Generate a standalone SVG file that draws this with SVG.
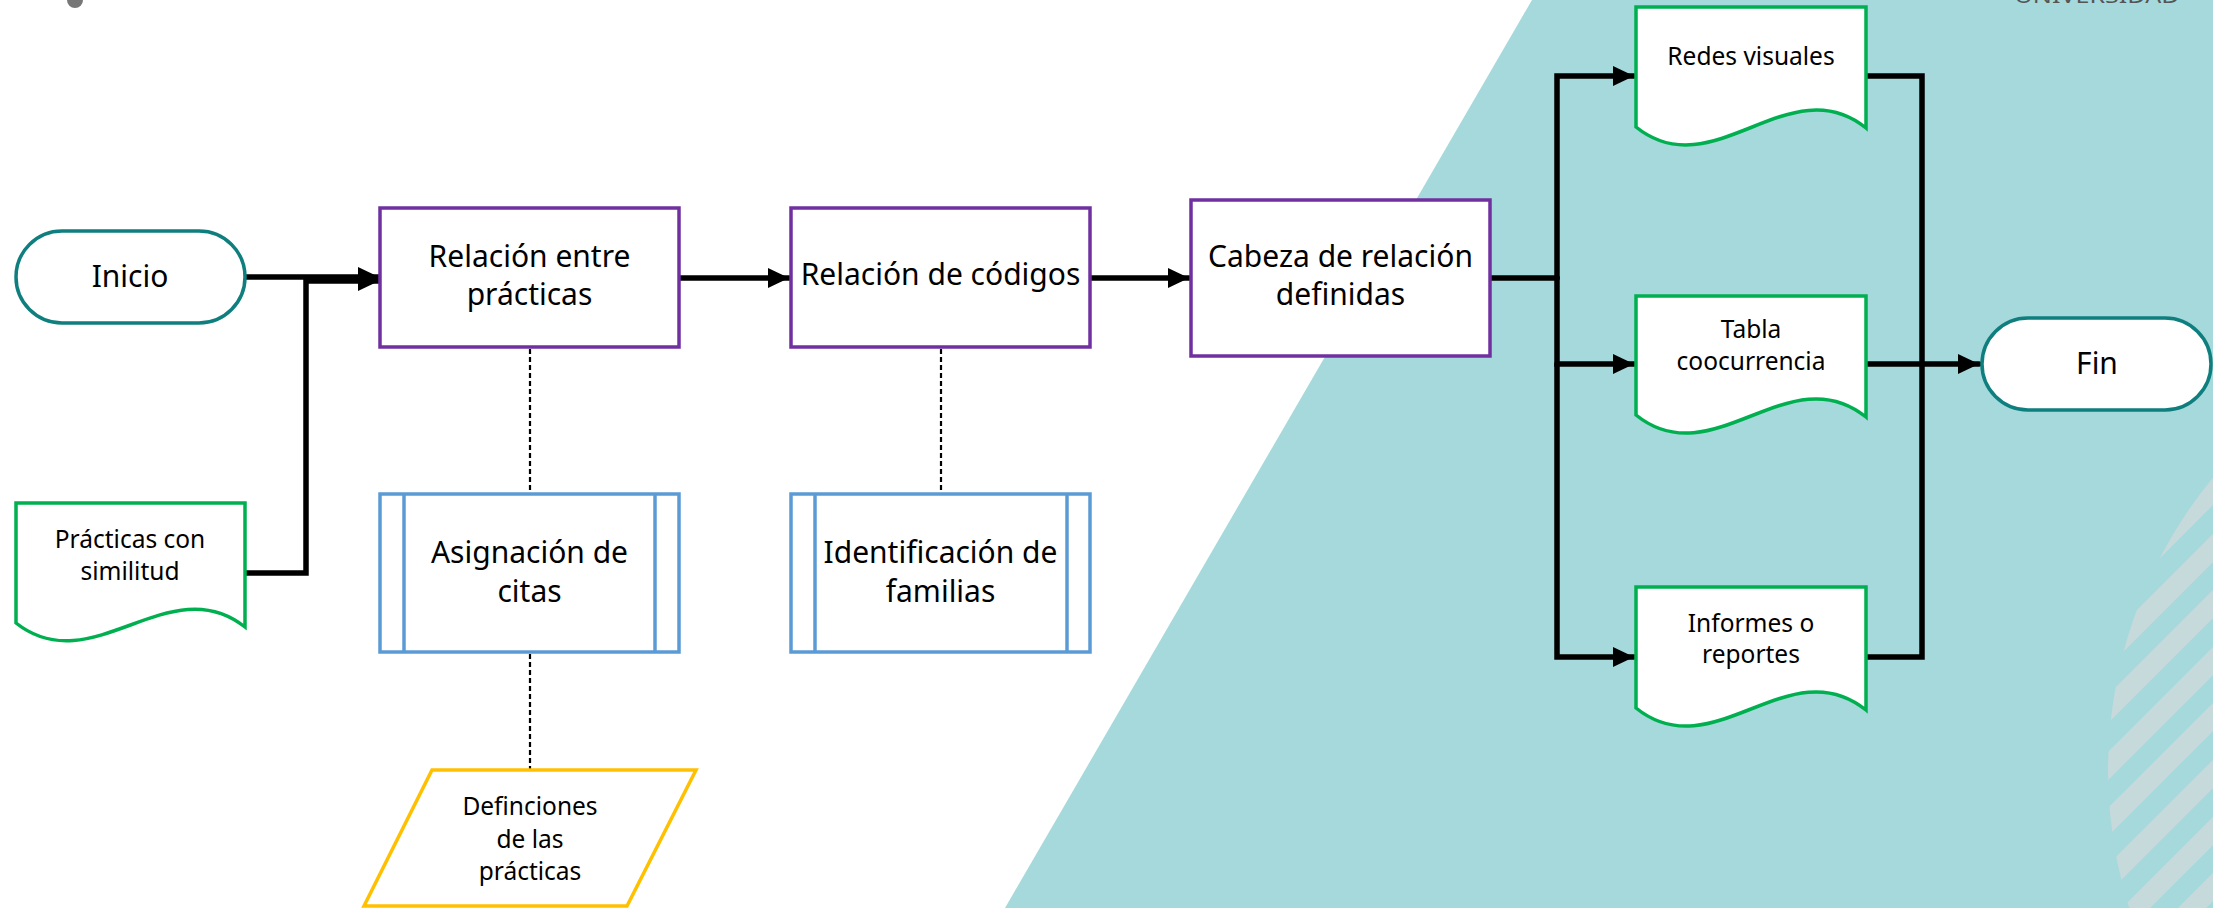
<svg xmlns="http://www.w3.org/2000/svg" width="2213" height="908" viewBox="0 0 2213 908">
<style>
text{font-family:"Noto Sans","Open Sans",sans-serif;fill:#000;text-anchor:middle}
.big{font-size:30px}
.small{font-size:24.5px}
.term{fill:#fff;stroke:#0E7F7E;stroke-width:3.5}
.proc{fill:#fff;stroke:#7030A0;stroke-width:3.5}
.sub{fill:#fff;stroke:#5B9BD5;stroke-width:3.5}
.doc{fill:#fff;stroke:#00B050;stroke-width:3.5}
.io{fill:#fff;stroke:#FFC000;stroke-width:3.5}
.conn{fill:none;stroke:#000;stroke-width:5.5;stroke-linejoin:miter;stroke-linecap:round}
.dash{fill:none;stroke:#000;stroke-width:2.2;stroke-dasharray:5 3}
.stripe{stroke:#C6D9DB;stroke-width:20}
</style>
<defs>
<marker id="arr" markerUnits="userSpaceOnUse" markerWidth="24" markerHeight="24" viewBox="0 0 24 24" refX="21" refY="12" orient="auto">
<path d="M0,2 L21,12 L0,22 Z" fill="#000"/>
</marker>
<clipPath id="arc"><circle cx="2568" cy="770" r="460"/></clipPath>
</defs>
<g id="background">
<rect x="0" y="0" width="2213" height="908" fill="#fff"/>
<polygon points="1532,0 2213,0 2213,908 1005,908" fill="#A5D9DB"/>
<g clip-path="url(#arc)">
<line class="stripe" x1="2050" y1="654" x2="2260" y2="444"/>
<line class="stripe" x1="2050" y1="711" x2="2260" y2="501"/>
<line class="stripe" x1="2050" y1="767" x2="2260" y2="557"/>
<line class="stripe" x1="2050" y1="824" x2="2260" y2="614"/>
<line class="stripe" x1="2050" y1="880" x2="2260" y2="670"/>
<line class="stripe" x1="2050" y1="937" x2="2260" y2="727"/>
<line class="stripe" x1="2050" y1="994" x2="2260" y2="784"/>
<line class="stripe" x1="2050" y1="1050" x2="2260" y2="840"/>
<line class="stripe" x1="2050" y1="1107" x2="2260" y2="897"/>
</g>
<ellipse cx="75" cy="0" rx="8" ry="8" fill="#777"/>
<text x="2097" y="3" style="font-size:20px;fill:#555" textLength="165" lengthAdjust="spacingAndGlyphs">UNIVERSIDAD</text>
</g>
<g id="connectors">
<path class="conn" d="M245,277 H379" marker-end="url(#arr)"/>
<path class="conn" d="M245,573 H306 V281 H379" marker-end="url(#arr)"/>
<path class="conn" d="M679,278 H789" marker-end="url(#arr)"/>
<path class="conn" d="M1090,278 H1189" marker-end="url(#arr)"/>
<path class="conn" d="M1490,278 H1557"/>
<path class="conn" d="M1557,278 V76 H1634" marker-end="url(#arr)"/>
<path class="conn" d="M1557,278 V364 H1634" marker-end="url(#arr)"/>
<path class="conn" d="M1557,364 V657 H1634" marker-end="url(#arr)"/>
<path class="conn" d="M1866,76 H1922 V364"/>
<path class="conn" d="M1866,657 H1922 V364"/>
<path class="conn" d="M1866,364 H1979" marker-end="url(#arr)"/>
<path class="dash" d="M530,349 V494"/>
<path class="dash" d="M530,654 V769"/>
<path class="dash" d="M941,349 V494"/>
</g>
<g id="inicio">
<rect class="term" x="16" y="231" width="229" height="92" rx="46" ry="46"/>
<text class="big" x="130" y="287">Inicio</text>
</g>
<g id="practicas-similitud">
<path class="doc" d="M16,503 H245 V627 C169,567 92,683 16,623 Z"/>
<text class="small" x="130" y="548">Prácticas con</text>
<text class="small" x="130" y="580">similitud</text>
</g>
<g id="relacion-practicas">
<rect class="proc" x="380" y="208" width="299" height="139"/>
<text class="big" x="529.5" y="267">Relación entre</text>
<text class="big" x="529.5" y="305">prácticas</text>
</g>
<g id="asignacion-citas">
<rect class="sub" x="380" y="494" width="299" height="158"/>
<line class="sub" x1="404" y1="494" x2="404" y2="652"/>
<line class="sub" x1="655" y1="494" x2="655" y2="652"/>
<text class="big" x="529.5" y="563">Asignación de</text>
<text class="big" x="529.5" y="602">citas</text>
</g>
<g id="definiciones">
<polygon class="io" points="432,770 696,770 627,906 364,906"/>
<text class="small" x="530" y="815">Definciones</text>
<text class="small" x="530" y="848">de las</text>
<text class="small" x="530" y="880">prácticas</text>
</g>
<g id="relacion-codigos">
<rect class="proc" x="791" y="208" width="299" height="139"/>
<text class="big" x="940.5" y="285">Relación de códigos</text>
</g>
<g id="identificacion-familias">
<rect class="sub" x="791" y="494" width="299" height="158"/>
<line class="sub" x1="815" y1="494" x2="815" y2="652"/>
<line class="sub" x1="1067" y1="494" x2="1067" y2="652"/>
<text class="big" x="940.5" y="563">Identificación de</text>
<text class="big" x="940.5" y="602">familias</text>
</g>
<g id="cabeza-relacion">
<rect class="proc" x="1191" y="200" width="299" height="156"/>
<text class="big" x="1340.5" y="267">Cabeza de relación</text>
<text class="big" x="1340.5" y="305">definidas</text>
</g>
<g id="redes-visuales">
<path class="doc" d="M1636,7 H1866 V128 C1789,66 1713,189 1636,127 Z"/>
<text class="small" x="1751" y="65">Redes visuales</text>
</g>
<g id="tabla-coocurrencia">
<path class="doc" d="M1636,296 H1866 V417 C1789,355 1713,477 1636,415 Z"/>
<text class="small" x="1751" y="338">Tabla</text>
<text class="small" x="1751" y="370">coocurrencia</text>
</g>
<g id="informes-reportes">
<path class="doc" d="M1636,587 H1866 V710 C1789,648 1713,770 1636,708 Z"/>
<text class="small" x="1751" y="632">Informes o</text>
<text class="small" x="1751" y="663">reportes</text>
</g>
<g id="fin">
<rect class="term" x="1982" y="318" width="229" height="92" rx="46" ry="46"/>
<text class="big" x="2097" y="374">Fin</text>
</g>
</svg>
